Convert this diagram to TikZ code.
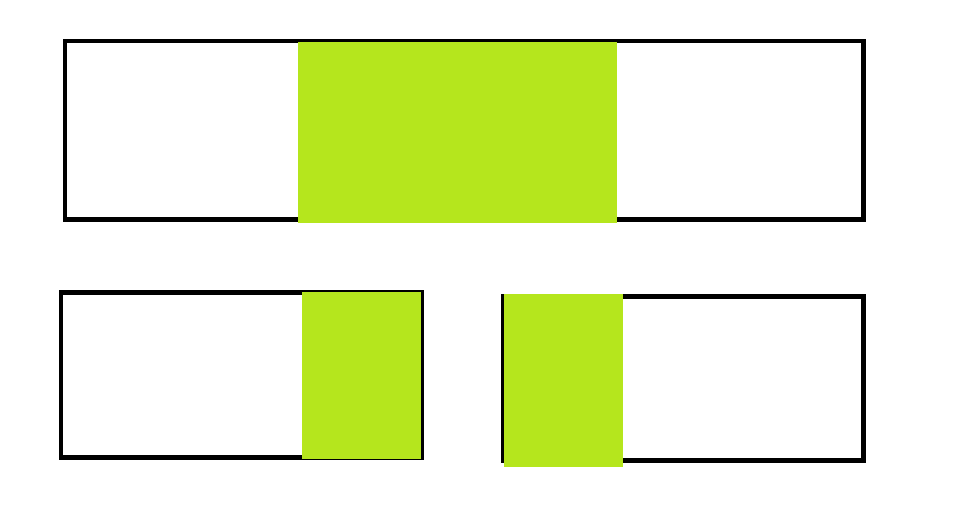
\documentclass[tikz,border=0pt]{standalone}
\usetikzlibrary{positioning}
\definecolor{limegreen}{RGB}{181,230,29}

\begin{document}
\begin{tikzpicture}[
    x=0.01cm, y=-0.01cm,
    frame/.style={draw=black, line width=0.045cm},
    band/.style={fill=limegreen, draw=none}
]
\useasboundingbox (0,0) rectangle (959,529);
% top bar
\path [frame] (65,41) rectangle (863.5,219.5);
\path [band] (298,42) rectangle (617,222.5);
% lower left bar
\path [frame] (61,292.5) rectangle (421.5,457.5);
\path [band] (302,292) rectangle (421,459);
% lower right bar
\path [frame] (503,296.3) rectangle (863.5,460.3);
\path [band] (504,294) rectangle (623,466.5);
\end{tikzpicture}
\end{document}
